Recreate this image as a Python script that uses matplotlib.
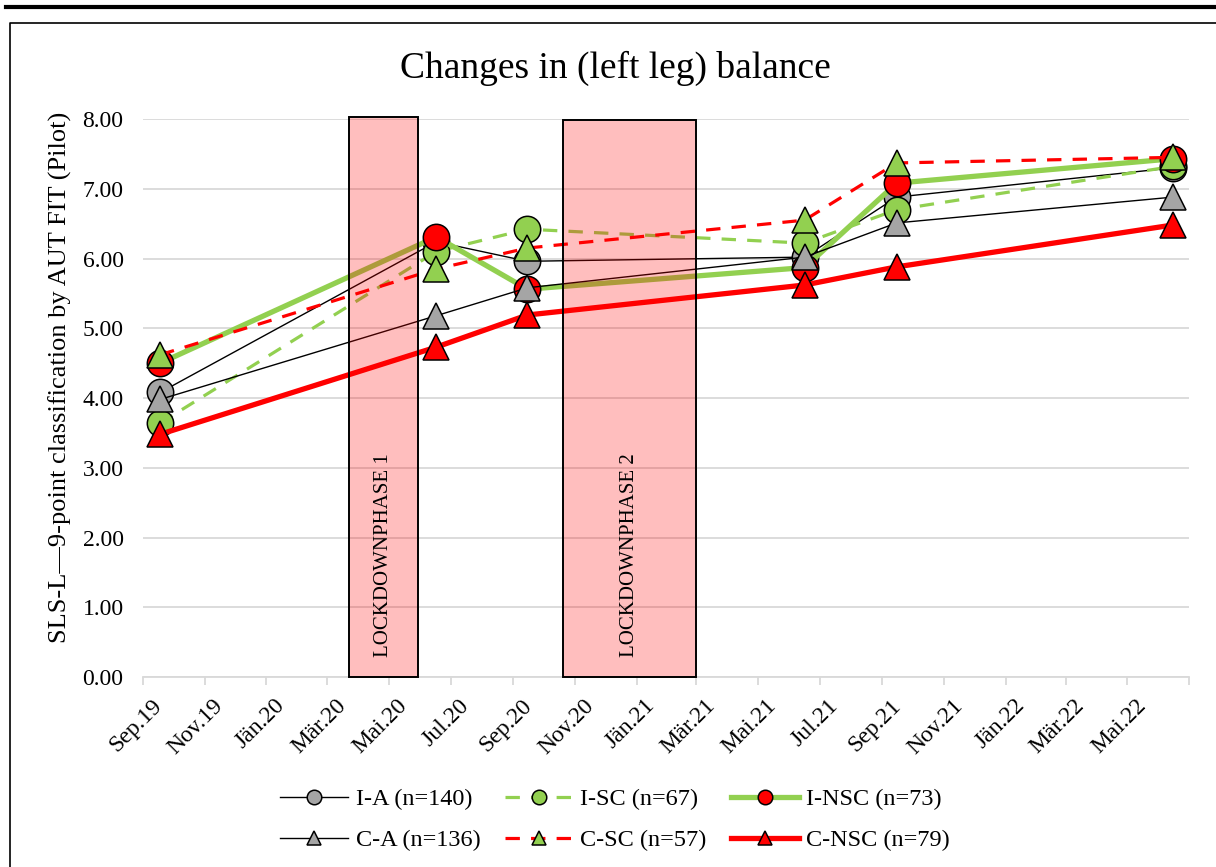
import numpy as np
import pandas as pd
import matplotlib
matplotlib.use("Agg")
import matplotlib.pyplot as plt
import matplotlib.dates as mdates
import matplotlib.transforms as mtransforms
from matplotlib.patches import Rectangle
from matplotlib.lines import Line2D

plt.rcParams['font.family'] = ['Liberation Serif', 'DejaVu Serif']

# measurement dates and mean scores per group
dates = pd.to_datetime(['2019-09-18', '2020-06-17', '2020-09-15',
                        '2021-06-16', '2021-09-15', '2022-06-15'])
i_a = [4.08, 6.24, 5.96, 6.02, 6.88, 7.30]
i_sc = [3.64, 6.10, 6.42, 6.22, 6.70, 7.32]
i_nsc = [4.50, 6.31, 5.56, 5.87, 7.08, 7.43]
c_a = [3.98, 5.18, 5.58, 6.02, 6.51, 6.88]
c_sc = [4.62, 5.85, 6.15, 6.55, 7.37, 7.45]
c_nsc = [3.48, 4.73, 5.19, 5.62, 5.88, 6.48]

# lockdown periods
lock_start = pd.to_datetime(['2020-03-23', '2020-10-20'])
lock_end = pd.to_datetime(['2020-05-30', '2021-03-01'])
lock_top = [8.03, 7.99]
lock_labels = ['LOCKDOWNPHASE 1', 'LOCKDOWNPHASE 2']

tick_dates = pd.date_range('2019-09-01', '2022-07-01', freq='2MS')
tick_labels = ['Sep.19', 'Nov.19', 'Jän.20', 'Mär.20', 'Mai.20', 'Jul.20',
               'Sep.20', 'Nov.20', 'Jän.21', 'Mär.21', 'Mai.21', 'Jul.21',
               'Sep.21', 'Nov.21', 'Jän.22', 'Mär.22', 'Mai.22', '']

green = '#92D050'
red = '#FF0000'
gray = '#A5A5A5'

fig = plt.figure(figsize=(12.16, 8.67), dpi=100)
ax = fig.add_axes([143/1216, 1-677/867, (1189-143)/1216, (677-119)/867])

ms = 19
mew = 1.1
series = [
    (i_a, 'I-A (n=140)', dict(color='black', lw=1.0, marker='o', mfc=gray)),
    (i_sc, 'I-SC (n=67)', dict(color=green, lw=2.3, ls=(0, (4.5, 3.5)), marker='o', mfc=green)),
    (i_nsc, 'I-NSC (n=73)', dict(color=green, lw=3.8, marker='o', mfc=red)),
    (c_a, 'C-A (n=136)', dict(color='black', lw=1.0, marker='^', mfc=gray)),
    (c_sc, 'C-SC (n=57)', dict(color=red, lw=2.3, ls=(0, (4.5, 3.5)), marker='^', mfc=green)),
    (c_nsc, 'C-NSC (n=79)', dict(color=red, lw=3.8, marker='^', mfc=red)),
]
handles = []
for k, (vals, lab, st) in enumerate(series):
    h, = ax.plot(dates, vals, ms=ms, mec='black', mew=mew, label=lab,
                 zorder=3 + k * 0.1, clip_on=False, **st)
    handles.append(h)

for s, e, top, lab in zip(lock_start, lock_end, lock_top, lock_labels):
    x0 = mdates.date2num(s)
    x1 = mdates.date2num(e)
    ax.add_patch(Rectangle((x0, 0), x1 - x0, top, facecolor=(1, 0, 0, 0.255),
                           edgecolor='black', lw=1.4, zorder=5, clip_on=False))
    ax.text((x0 + x1) / 2, 1.75, lab, rotation=90, ha='center', va='center',
            fontsize=15, zorder=6)

ax.set_xlim(pd.Timestamp('2019-09-01'), pd.Timestamp('2022-07-01'))
ax.set_ylim(0, 8)
ax.set_yticks(np.arange(0, 8.01, 1))
ax.set_yticklabels(['%.2f' % v for v in np.arange(0, 8.01, 1)], fontsize=17)
ax.tick_params(axis='y', length=0, pad=14)
ax.set_xticks(tick_dates)
ax.set_xticklabels(tick_labels, fontsize=17, rotation=45, ha='right',
                   va='top', rotation_mode='anchor')
ax.tick_params(axis='x', length=6, width=1.3, color='#D9D9D9', pad=7)
shift = mtransforms.ScaledTranslation(0.08, 0, fig.dpi_scale_trans)
for lbl in ax.get_xticklabels():
    lbl.set_transform(lbl.get_transform() + shift)
ax.grid(axis='y', color='#D9D9D9', lw=1.3, zorder=0)
ax.set_axisbelow(True)
for sp in ['left', 'right', 'top']:
    ax.spines[sp].set_visible(False)
ax.spines['bottom'].set_color('#D9D9D9')
ax.spines['bottom'].set_linewidth(1.3)

fig.text(615/1216, 1-68/867, 'Changes in (left leg) balance', fontsize=27,
         ha='center', va='center')
fig.text(60/1216, 1-377/867, 'SLS-L\u20149-point classification by AUT FIT (Pilot)',
         fontsize=19, rotation=90, ha='center', va='center')

order = [0, 3, 1, 4, 2, 5]
fig.legend([handles[i] for i in order], [handles[i].get_label() for i in order],
           ncol=3, loc='center', bbox_to_anchor=(615/1216, 1-820/867),
           frameon=False, fontsize=17.5, handlelength=2.8, markerscale=0.55,
           columnspacing=1.0, labelspacing=0.78, handletextpad=0.3)

# outer frame lines
fig.add_artist(Line2D([6/1216, 1], [1-7/867, 1-7/867], color='black', lw=3,
                      transform=fig.transFigure))
fig.add_artist(Line2D([10/1216, 10/1216, 1], [0, 1-23/867, 1-23/867],
                      color='black', lw=1.2, transform=fig.transFigure))

fig.savefig('out.png', dpi=100)
